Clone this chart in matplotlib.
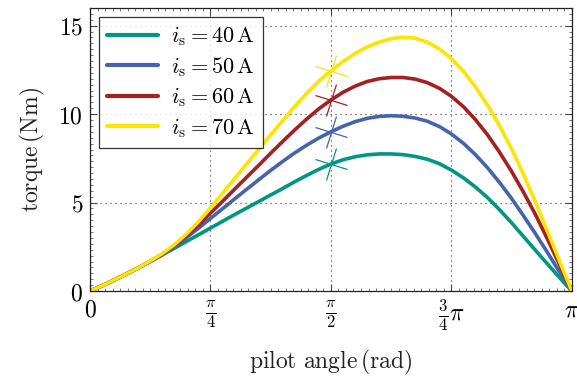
import numpy as np
import matplotlib
matplotlib.use("Agg")
import matplotlib.pyplot as plt
from matplotlib.markers import MarkerStyle
from matplotlib.transforms import Affine2D
from matplotlib.ticker import FixedLocator, MultipleLocator

plt.rcParams['mathtext.fontset'] = 'cm'
plt.rcParams['font.family'] = 'serif'
plt.rcParams['font.serif'] = ['DejaVu Serif']

# pilot angle in rad, steps of pi/40
angle = [0.0, 0.0785, 0.157, 0.236, 0.314, 0.393, 0.471, 0.550, 0.628, 0.707,
         0.785, 0.864, 0.942, 1.021, 1.100, 1.178, 1.257, 1.335, 1.414, 1.492,
         1.571, 1.649, 1.728, 1.806, 1.885, 1.963, 2.042, 2.120, 2.199, 2.278,
         2.356, 2.435, 2.513, 2.592, 2.670, 2.749, 2.827, 2.906, 2.985, 3.063,
         3.1416]

# torque in Nm for each stator current
torque_40 = [0, 0.30, 0.62, 0.96, 1.31, 1.67, 2.04, 2.42, 2.80, 3.18,
             3.56, 3.94, 4.32, 4.69, 5.06, 5.43, 5.80, 6.18, 6.54, 6.88,
             7.18, 7.42, 7.59, 7.70, 7.75, 7.75, 7.71, 7.61, 7.45, 7.20,
             6.84, 6.40, 5.88, 5.28, 4.60, 3.86, 3.08, 2.29, 1.51, 0.75,
             0]
torque_50 = [0, 0.30, 0.62, 0.96, 1.31, 1.68, 2.07, 2.52, 3.02, 3.55,
             4.10, 4.65, 5.20, 5.75, 6.29, 6.82, 7.33, 7.81, 8.25, 8.65,
             9.00, 9.31, 9.57, 9.76, 9.87, 9.91, 9.88, 9.78, 9.60, 9.30,
             8.88, 8.35, 7.71, 6.97, 6.14, 5.23, 4.25, 3.22, 2.15, 1.06,
             0]
torque_60 = [0, 0.30, 0.62, 0.96, 1.31, 1.69, 2.09, 2.57, 3.12, 3.74,
             4.40, 5.07, 5.75, 6.43, 7.11, 7.79, 8.46, 9.11, 9.73, 10.30,
             10.80, 11.23, 11.58, 11.84, 12.00, 12.07, 12.07, 11.98, 11.78, 11.46,
             11.01, 10.42, 9.69, 8.83, 7.85, 6.76, 5.58, 4.30, 2.90, 1.46,
             0]
torque_70 = [0, 0.30, 0.62, 0.96, 1.31, 1.70, 2.12, 2.62, 3.22, 3.92,
             4.70, 5.52, 6.35, 7.18, 8.01, 8.83, 9.64, 10.43, 11.18, 11.86,
             12.45, 12.97, 13.42, 13.79, 14.07, 14.26, 14.35, 14.29, 14.07, 13.69,
             13.14, 12.42, 11.54, 10.51, 9.34, 8.04, 6.59, 4.99, 3.34, 1.66,
             0]

currents = [40, 50, 60, 70]
series = [torque_40, torque_50, torque_60, torque_70]
colors = ['#009682', '#4664AA', '#A22223', '#FCE500']

# index of the marked point at pi/2
mark_idx = 20

fig = plt.figure(figsize=(5.77, 3.79), dpi=100)
ax = fig.add_axes([0.156, 0.232, 0.835, 0.747])

cross = MarkerStyle('+', transform=Affine2D().rotate_deg(-18))
for cur, vals, col in zip(currents, series, colors):
    ax.plot(angle, vals, color=col, lw=2.6, solid_capstyle='round',
            solid_joinstyle='round',
            label=r'$i_\mathrm{s} = %d\,\mathrm{A}$' % cur)
    ax.plot(angle[mark_idx], vals[mark_idx], ls='none', marker=cross,
            ms=24, mew=0.9, color=col)

ax.set_xlim(0, np.pi)
ax.set_ylim(0, 16)

ax.xaxis.set_major_locator(FixedLocator([0, np.pi / 4, np.pi / 2, 3 * np.pi / 4, np.pi]))
ax.set_xticklabels([r'$0$', r'$\frac{\pi}{4}$', r'$\frac{\pi}{2}$',
                    r'$\frac{3}{4}\pi$', r'$\pi$'])
ax.xaxis.set_minor_locator(MultipleLocator(np.pi / 64))
ax.yaxis.set_major_locator(FixedLocator([0, 5, 10, 15]))
ax.set_yticklabels([r'$0$', r'$5$', r'$10$', r'$15$'])
ax.yaxis.set_minor_locator(MultipleLocator(1 / 3))

ax.tick_params(which='both', direction='in', top=True, right=True,
               labelsize=17, color='#444444')
ax.tick_params(which='major', length=5, width=0.8)
ax.tick_params(which='minor', length=2.5, width=0.5)
ax.tick_params(axis='x', pad=5)
ax.tick_params(axis='y', pad=5)

ax.grid(True, which='major', color='#333333', lw=0.8, ls=(0, (1, 3.5)))
for sp in ax.spines.values():
    sp.set_linewidth(0.9)
    sp.set_color('#222222')

ax.set_xlabel(r'$\mathrm{pilot\ angle\,(rad)}$', fontsize=17, labelpad=10, color='#222222')
ax.set_ylabel(r'$\mathrm{torque\,(Nm)}$', fontsize=17, labelpad=8, color='#222222')

leg = ax.legend(loc='upper left', fontsize=16, frameon=True, fancybox=False,
                edgecolor='black', handlelength=2.3, borderaxespad=0.4,
                labelspacing=0.3, handletextpad=0.6, borderpad=0.35)
leg.get_frame().set_linewidth(0.9)
for h in leg.get_lines():
    h.set_linewidth(3)

fig.savefig('out.png', dpi=100)
